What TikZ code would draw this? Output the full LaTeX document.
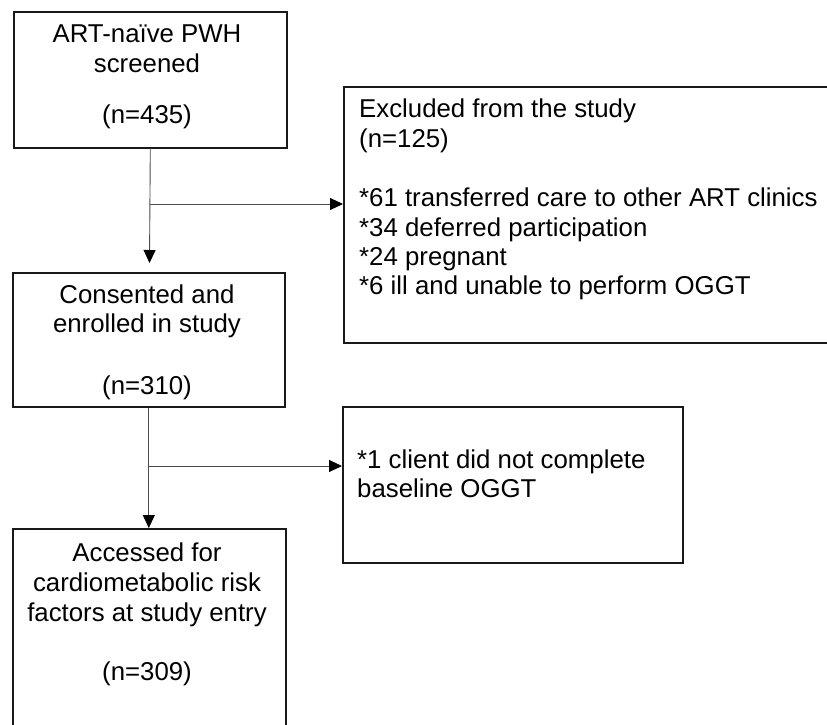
\documentclass[tikz,border=0pt]{standalone}
\usepackage{fontspec}
\setmainfont{Liberation Sans}
\usetikzlibrary{arrows.meta}
\begin{document}
\begin{tikzpicture}[x=1pt,y=-1pt,
  boxst/.style={draw=black!90, line width=1.6pt, inner sep=0pt, anchor=north west},
  txt/.style={font=\fontsize{25.8}{29.5}\selectfont, inner sep=0pt, anchor=base, text=black},
  ltxt/.style={txt, anchor=base west},
  conn/.style={draw=black!70, line width=0.9pt},
  arr/.style={conn, -{Triangle[length=13pt,width=12pt,color=black]}}]
\useasboundingbox (0,0) rectangle (827,724);
% boxes
\node[boxst, minimum width=273pt, minimum height=136pt] (b1) at (13,11) {};
\node[boxst, minimum width=492pt, minimum height=256pt] (b2) at (343,86) {};
\node[boxst, minimum width=272pt, minimum height=134pt] (b3) at (12,272) {};
\node[boxst, minimum width=340pt, minimum height=156pt] (b4) at (342,406) {};
\node[boxst, minimum width=273pt, minimum height=207pt] (b5) at (12,528) {};
% texts box 1
\node[txt] (t1a) at (147,42) {ART-naïve PWH};
\node[txt] (t1b) at (147,72) {screened};
\node[txt] (t1c) at (147,123) {(n=435)};
% texts box 2
\node[ltxt] (t2a) at (359,117) {Excluded from the study};
\node[ltxt] (t2b) at (359,147) {(n=125)};
\node[ltxt] (t2c) at (359,206) {*61 transferred care to other ART clinics};
\node[ltxt] (t2d) at (359,236) {*34 deferred participation};
\node[ltxt] (t2e) at (359,265) {*24 pregnant};
\node[ltxt] (t2f) at (359,294) {*6 ill and unable to perform OGGT};
% texts box 3
\node[txt] (t3a) at (147,303) {Consented and};
\node[txt] (t3b) at (147,332) {enrolled in study};
\node[txt] (t3c) at (147,394) {(n=310)};
% texts box 4
\node[ltxt] (t4a) at (357,468) {*1 client did not complete};
\node[ltxt] (t4b) at (357,497) {baseline OGGT};
% texts box 5
\node[txt] (t5a) at (147,561) {Accessed for};
\node[txt] (t5b) at (147,591) {cardiometabolic risk};
\node[txt] (t5c) at (147,621) {factors at study entry};
\node[txt] (t5d) at (147,680) {(n=309)};
% connectors
\coordinate (j1) at (149.5,204);
\coordinate (e1) at (149.5,263);
\draw[arr] (b1.south) -- (e1);
\draw[arr] (j1) -- (j1 -| b2.west);
\coordinate (j2) at (148,466);
\draw[arr] (b3.south) -- (b3.south |- b5.north);
\draw[arr] (j2) -- (j2 -| b4.west);
\end{tikzpicture}
\end{document}
